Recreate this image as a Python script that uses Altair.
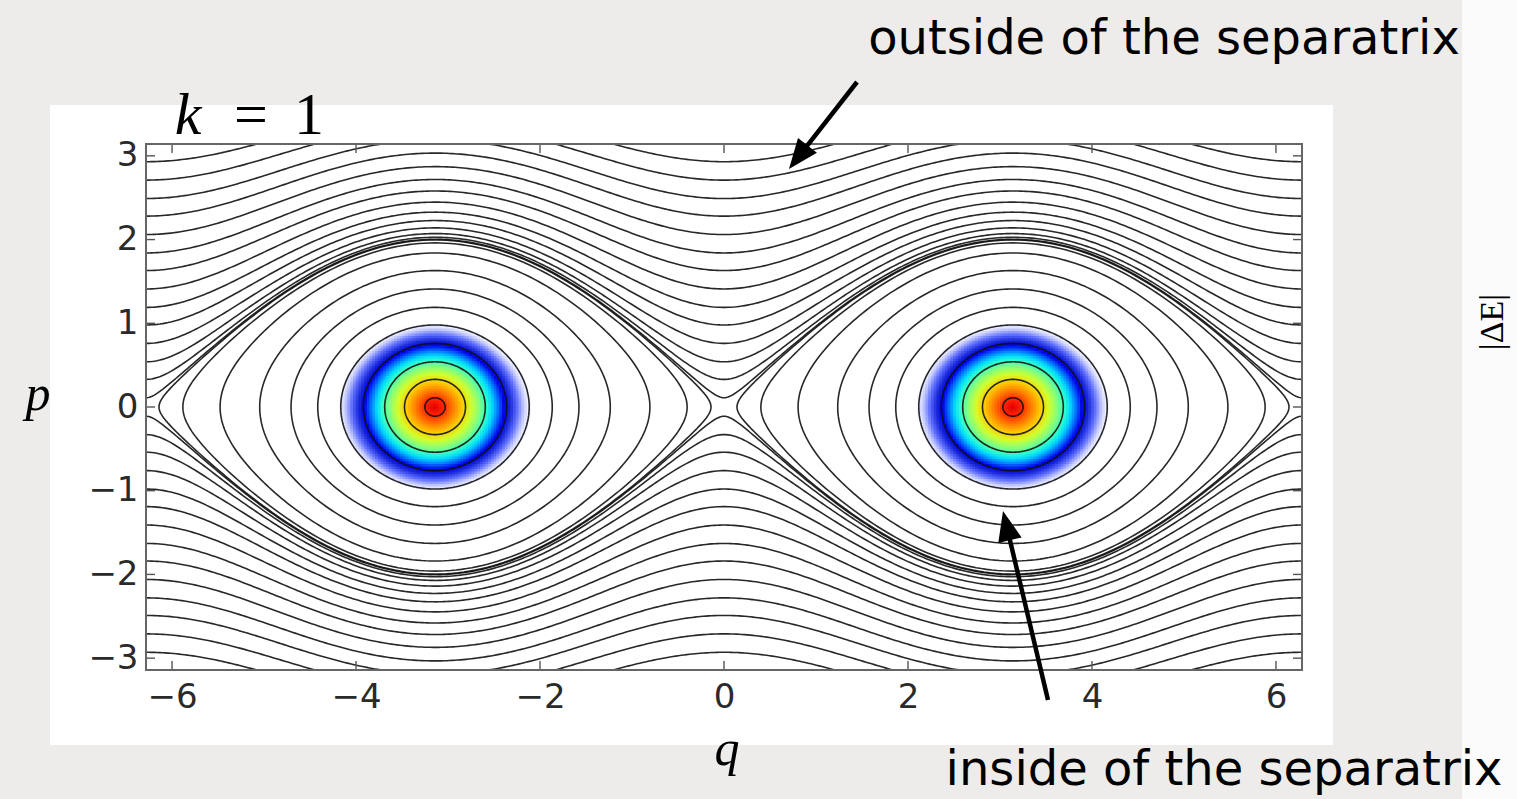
import math
import numpy as np
import pandas as pd
import altair as alt

# Phase portrait of the pendulum  H(q, p) = p^2 / 2 + k cos(q),  k = 1
K = 1.0
Q_MIN, Q_MAX = -2 * math.pi, 2 * math.pi
P_MIN, P_MAX = -math.pi, math.pi

# launch momenta of the rotations (started at q = 0)
ROTATION_MOMENTA = [0.11, 0.33, 0.54, 0.76, 0.98, 1.19, 1.41, 1.63, 1.84,
                    2.06, 2.28, 2.49, 2.71, 2.93]
# launch momenta of the librations (started at the bottom of each well)
LIBRATION_MOMENTA = [0.11, 0.33, 0.54, 0.76, 0.98, 1.19, 1.41, 1.63, 1.84,
                     1.96, 1.995]
WELL_CENTRES = [-math.pi, math.pi]

Q_TICKS = [-6, -4, -2, 0, 2, 4, 6]
P_TICKS = [-3, -2, -1, 0, 1, 2, 3]

# colour of the |dE| map against the libration amplitude of the local orbit
HEAT_RADII = [0.0, 0.09, 0.2, 0.3, 0.4, 0.49, 0.56, 0.62, 0.68, 0.74,
              0.8, 0.87, 0.93, 0.99]
HEAT_COLORS = ["#e00000", "#ff2000", "#ff7a00", "#ffc800", "#d0ff30",
               "#80ff80", "#30ffcc", "#00d8ff", "#0070ff", "#0000e8",
               "#1828d8", "#6070ff", "#c0c6ff", "#ffffff"]

# page geometry (pixels)
W, H = 1156, 526
LEFT, TOP = 146, 144
PAGE_W, PAGE_H = 1517, 799


def px(x):
    return x - LEFT


def py(y):
    return y - TOP


# ---- trajectories -------------------------------------------------------
rows = []
cid = 0
qs = np.linspace(Q_MIN, Q_MAX, 420)
for p0 in ROTATION_MOMENTA:
    energy = 0.5 * p0 ** 2 + K
    for sgn in (1, -1):
        ps = sgn * np.sqrt(np.maximum(0.0, 2 * (energy - K * np.cos(qs))))
        for i, (q, p) in enumerate(zip(qs, ps)):
            rows.append((cid, i, q, p))
        cid += 1

ts = np.linspace(0, 2 * math.pi, 301)
for c in WELL_CENTRES:
    for p0 in LIBRATION_MOMENTA:
        energy = 0.5 * p0 ** 2 - K
        amp = math.pi - math.acos(energy / K)
        q = c + amp * np.cos(ts)
        p = np.sign(np.sin(ts)) * np.sqrt(np.maximum(0.0, 2 * (energy - K * np.cos(q))))
        for i in range(len(ts)):
            rows.append((cid, i, q[i], p[i]))
        cid += 1

orbits = pd.DataFrame(rows, columns=["curve", "idx", "q", "p"])

# ---- |dE| map near the stable points ------------------------------------
step = 0.03
offs = np.arange(-1.05, 1.05 + 1e-9, step)
cells = []
for c in WELL_CENTRES:
    for dq in offs:
        for pp in offs:
            qq = c + dq
            energy = 0.5 * pp ** 2 + K * math.cos(qq)
            r = math.sqrt(max(0.0, 2 * (energy + K)))
            if r <= HEAT_RADII[-1]:
                cells.append((qq - step * 0.7, qq + step * 0.7,
                              pp - step * 0.7, pp + step * 0.7, r))
heat = pd.DataFrame(cells, columns=["q0", "q1", "p0", "p1", "r"])

xscale = alt.Scale(domain=[Q_MIN, Q_MAX], nice=False, zero=False)
yscale = alt.Scale(domain=[P_MIN, P_MAX], nice=False, zero=False)
xaxis = alt.Axis(values=Q_TICKS, ticks=False, domain=False, grid=False, title=None,
                 labelFont="DejaVu Sans", labelFontSize=34, labelColor="#2a2a2a",
                 labelPadding=10, zindex=2)
yaxis = alt.Axis(values=P_TICKS, ticks=False, domain=False, grid=False, title=None,
                 labelFont="DejaVu Sans", labelFontSize=34, labelColor="#2a2a2a",
                 labelPadding=8, zindex=2)

one = pd.DataFrame({"a": [0]})

white_box = alt.Chart(one).mark_rect(color="white").encode(
    x=alt.value(px(50)), x2=alt.value(px(1333)),
    y=alt.value(py(105)), y2=alt.value(py(745)))

right_panel = alt.Chart(one).mark_rect(color="#fbfbfb").encode(
    x=alt.value(px(1462)), x2=alt.value(px(PAGE_W + 5)),
    y=alt.value(py(-5)), y2=alt.value(py(PAGE_H + 5)))

heat_layer = alt.Chart(heat).mark_rect(clip=True).encode(
    x=alt.X("q0:Q", scale=xscale, axis=xaxis),
    x2="q1:Q",
    y=alt.Y("p0:Q", scale=yscale, axis=yaxis),
    y2="p1:Q",
    color=alt.Color("r:Q", legend=None,
                    scale=alt.Scale(domain=HEAT_RADII, range=HEAT_COLORS,
                                    interpolate="rgb")))

lines = alt.Chart(orbits).mark_line(clip=True, color="#111", strokeWidth=1.6,
                                    opacity=0.9).encode(
    x=alt.X("q:Q", scale=xscale, axis=xaxis),
    y=alt.Y("p:Q", scale=yscale, axis=yaxis),
    detail="curve:N",
    order="idx:Q")

qt = pd.DataFrame({"v": Q_TICKS})
pt = pd.DataFrame({"v": P_TICKS})
tick_len = 9
tick_style = dict(color="#555", strokeWidth=1.4)
ticks = [
    alt.Chart(qt).mark_rule(**tick_style).encode(
        x=alt.X("v:Q", scale=xscale, axis=xaxis), y=alt.value(H), y2=alt.value(H - tick_len)),
    alt.Chart(qt).mark_rule(**tick_style).encode(
        x=alt.X("v:Q", scale=xscale, axis=xaxis), y=alt.value(0), y2=alt.value(tick_len)),
    alt.Chart(pt).mark_rule(**tick_style).encode(
        y=alt.Y("v:Q", scale=yscale, axis=yaxis), x=alt.value(0), x2=alt.value(tick_len)),
    alt.Chart(pt).mark_rule(**tick_style).encode(
        y=alt.Y("v:Q", scale=yscale, axis=yaxis), x=alt.value(W), x2=alt.value(W - tick_len)),
]

frame = alt.Chart(one).mark_rect(filled=False, stroke="#666", strokeWidth=2).encode(
    x=alt.value(0), x2=alt.value(W), y=alt.value(0), y2=alt.value(H))


def label(text, x, y, size, font="Liberation Serif", style="normal", align="center",
          baseline="alphabetic", angle=0, color="black"):
    return alt.Chart(one).mark_text(text=text, font=font, fontSize=size, fontStyle=style,
                                    align=align, baseline=baseline, angle=angle,
                                    color=color).encode(
        x=alt.value(px(x)), y=alt.value(py(y)))


texts = [
    label("k", 188, 134, 60, style="italic"),
    label("=", 251, 134, 60),
    label("1", 309, 134, 60),
    label("p", 38, 410, 50, style="italic"),
    label("q", 727, 765, 50, style="italic"),
    label("outside of the separatrix", 1164, 54, 48, font="DejaVu Sans"),
    label("inside of the separatrix", 1224, 785, 48, font="DejaVu Sans"),
    label("|ΔE|", 1476, 322, 34, angle=270, baseline="top"),
]


# annotation arrows: shaft plus a slim triangular head
def arrow(x_from, y_from, x_tip, y_tip, head=30):
    dx, dy = x_tip - x_from, y_tip - y_from
    n = math.hypot(dx, dy)
    ux, uy = dx / n, dy / n
    ang = math.degrees(math.atan2(ux, -uy)) % 360
    cx, cy = x_tip - ux * head / 2, y_tip - uy * head / 2
    shaft = alt.Chart(one).mark_rule(color="black", strokeWidth=4.5).encode(
        x=alt.value(px(x_from)), y=alt.value(py(y_from)),
        x2=alt.value(px(cx)), y2=alt.value(py(cy)))
    tip = alt.Chart(one).mark_point(shape="M0,-1L0.8,1L-0.8,1Z", filled=True, opacity=1,
                                    color="black", size=head * head, angle=ang).encode(
        x=alt.value(px(cx)), y=alt.value(py(cy)))
    return [shaft, tip]


arrows = arrow(857, 82, 789, 169) + arrow(1048, 700, 1003, 511)

chart = alt.layer(white_box, right_panel, heat_layer, lines, *ticks, frame,
                  *texts, *arrows).properties(
    width=W, height=H,
    autosize=alt.AutoSizeParams(type="none"),
    padding={"left": LEFT, "top": TOP, "right": PAGE_W - LEFT - W,
             "bottom": PAGE_H - TOP - H},
    background="#eeeceb",
).configure_view(stroke=None, fill=None)

chart.save("out.html", embed_options={"renderer": "svg", "actions": False})
